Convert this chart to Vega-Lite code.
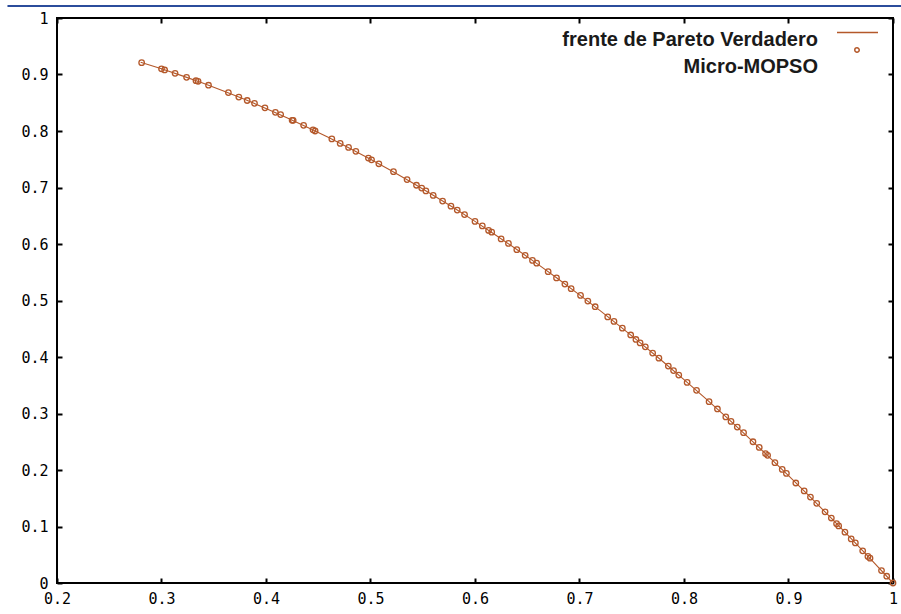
{
  "$schema": "https://vega.github.io/schema/vega-lite/v6.json",
  "width": 836,
  "height": 565,
  "autosize": {"type": "none"},
  "padding": {"left": 57, "top": 18, "right": 8, "bottom": 31},
  "background": "white",
  "config": {
    "view": {"stroke": "black", "strokeWidth": 2},
    "axis": {
      "domain": false,
      "grid": false,
      "ticks": true,
      "tickSize": -5,
      "tickWidth": 2,
      "tickColor": "black",
      "labelFont": "DejaVu Sans Mono",
      "labelFontSize": 15,
      "labelColor": "black",
      "title": null
    }
  },
  "datasets": {
    "front": [
      {"f1": 0.28, "f2": 0.9216, "front": "frente de Pareto Verdadero"},
      {"f1": 0.30, "f2": 0.9100, "front": "frente de Pareto Verdadero"},
      {"f1": 0.32, "f2": 0.8976, "front": "frente de Pareto Verdadero"},
      {"f1": 0.34, "f2": 0.8844, "front": "frente de Pareto Verdadero"},
      {"f1": 0.36, "f2": 0.8704, "front": "frente de Pareto Verdadero"},
      {"f1": 0.38, "f2": 0.8556, "front": "frente de Pareto Verdadero"},
      {"f1": 0.40, "f2": 0.8400, "front": "frente de Pareto Verdadero"},
      {"f1": 0.42, "f2": 0.8236, "front": "frente de Pareto Verdadero"},
      {"f1": 0.44, "f2": 0.8064, "front": "frente de Pareto Verdadero"},
      {"f1": 0.46, "f2": 0.7884, "front": "frente de Pareto Verdadero"},
      {"f1": 0.48, "f2": 0.7696, "front": "frente de Pareto Verdadero"},
      {"f1": 0.50, "f2": 0.7500, "front": "frente de Pareto Verdadero"},
      {"f1": 0.52, "f2": 0.7296, "front": "frente de Pareto Verdadero"},
      {"f1": 0.54, "f2": 0.7084, "front": "frente de Pareto Verdadero"},
      {"f1": 0.56, "f2": 0.6864, "front": "frente de Pareto Verdadero"},
      {"f1": 0.58, "f2": 0.6636, "front": "frente de Pareto Verdadero"},
      {"f1": 0.60, "f2": 0.6400, "front": "frente de Pareto Verdadero"},
      {"f1": 0.62, "f2": 0.6156, "front": "frente de Pareto Verdadero"},
      {"f1": 0.64, "f2": 0.5904, "front": "frente de Pareto Verdadero"},
      {"f1": 0.66, "f2": 0.5644, "front": "frente de Pareto Verdadero"},
      {"f1": 0.68, "f2": 0.5376, "front": "frente de Pareto Verdadero"},
      {"f1": 0.70, "f2": 0.5100, "front": "frente de Pareto Verdadero"},
      {"f1": 0.72, "f2": 0.4816, "front": "frente de Pareto Verdadero"},
      {"f1": 0.74, "f2": 0.4524, "front": "frente de Pareto Verdadero"},
      {"f1": 0.76, "f2": 0.4224, "front": "frente de Pareto Verdadero"},
      {"f1": 0.78, "f2": 0.3916, "front": "frente de Pareto Verdadero"},
      {"f1": 0.80, "f2": 0.3600, "front": "frente de Pareto Verdadero"},
      {"f1": 0.82, "f2": 0.3276, "front": "frente de Pareto Verdadero"},
      {"f1": 0.84, "f2": 0.2944, "front": "frente de Pareto Verdadero"},
      {"f1": 0.86, "f2": 0.2604, "front": "frente de Pareto Verdadero"},
      {"f1": 0.88, "f2": 0.2256, "front": "frente de Pareto Verdadero"},
      {"f1": 0.90, "f2": 0.1900, "front": "frente de Pareto Verdadero"},
      {"f1": 0.92, "f2": 0.1536, "front": "frente de Pareto Verdadero"},
      {"f1": 0.94, "f2": 0.1164, "front": "frente de Pareto Verdadero"},
      {"f1": 0.96, "f2": 0.0784, "front": "frente de Pareto Verdadero"},
      {"f1": 0.98, "f2": 0.0396, "front": "frente de Pareto Verdadero"},
      {"f1": 1.00, "f2": 0.0000, "front": "frente de Pareto Verdadero"}
    ],
    "pts": [
      {"f1": 0.281, "f2": 0.921, "alg": "Micro-MOPSO"},
      {"f1": 0.300, "f2": 0.910, "alg": "Micro-MOPSO"},
      {"f1": 0.303, "f2": 0.908, "alg": "Micro-MOPSO"},
      {"f1": 0.313, "f2": 0.902, "alg": "Micro-MOPSO"},
      {"f1": 0.324, "f2": 0.895, "alg": "Micro-MOPSO"},
      {"f1": 0.333, "f2": 0.889, "alg": "Micro-MOPSO"},
      {"f1": 0.335, "f2": 0.888, "alg": "Micro-MOPSO"},
      {"f1": 0.345, "f2": 0.881, "alg": "Micro-MOPSO"},
      {"f1": 0.364, "f2": 0.868, "alg": "Micro-MOPSO"},
      {"f1": 0.374, "f2": 0.860, "alg": "Micro-MOPSO"},
      {"f1": 0.382, "f2": 0.854, "alg": "Micro-MOPSO"},
      {"f1": 0.389, "f2": 0.849, "alg": "Micro-MOPSO"},
      {"f1": 0.399, "f2": 0.841, "alg": "Micro-MOPSO"},
      {"f1": 0.409, "f2": 0.833, "alg": "Micro-MOPSO"},
      {"f1": 0.414, "f2": 0.829, "alg": "Micro-MOPSO"},
      {"f1": 0.425, "f2": 0.819, "alg": "Micro-MOPSO"},
      {"f1": 0.426, "f2": 0.819, "alg": "Micro-MOPSO"},
      {"f1": 0.436, "f2": 0.810, "alg": "Micro-MOPSO"},
      {"f1": 0.445, "f2": 0.802, "alg": "Micro-MOPSO"},
      {"f1": 0.447, "f2": 0.800, "alg": "Micro-MOPSO"},
      {"f1": 0.463, "f2": 0.786, "alg": "Micro-MOPSO"},
      {"f1": 0.471, "f2": 0.778, "alg": "Micro-MOPSO"},
      {"f1": 0.479, "f2": 0.771, "alg": "Micro-MOPSO"},
      {"f1": 0.486, "f2": 0.764, "alg": "Micro-MOPSO"},
      {"f1": 0.498, "f2": 0.752, "alg": "Micro-MOPSO"},
      {"f1": 0.501, "f2": 0.749, "alg": "Micro-MOPSO"},
      {"f1": 0.508, "f2": 0.742, "alg": "Micro-MOPSO"},
      {"f1": 0.522, "f2": 0.728, "alg": "Micro-MOPSO"},
      {"f1": 0.535, "f2": 0.714, "alg": "Micro-MOPSO"},
      {"f1": 0.544, "f2": 0.704, "alg": "Micro-MOPSO"},
      {"f1": 0.549, "f2": 0.699, "alg": "Micro-MOPSO"},
      {"f1": 0.553, "f2": 0.694, "alg": "Micro-MOPSO"},
      {"f1": 0.560, "f2": 0.686, "alg": "Micro-MOPSO"},
      {"f1": 0.569, "f2": 0.676, "alg": "Micro-MOPSO"},
      {"f1": 0.577, "f2": 0.667, "alg": "Micro-MOPSO"},
      {"f1": 0.583, "f2": 0.660, "alg": "Micro-MOPSO"},
      {"f1": 0.590, "f2": 0.652, "alg": "Micro-MOPSO"},
      {"f1": 0.600, "f2": 0.640, "alg": "Micro-MOPSO"},
      {"f1": 0.607, "f2": 0.632, "alg": "Micro-MOPSO"},
      {"f1": 0.613, "f2": 0.624, "alg": "Micro-MOPSO"},
      {"f1": 0.616, "f2": 0.621, "alg": "Micro-MOPSO"},
      {"f1": 0.625, "f2": 0.609, "alg": "Micro-MOPSO"},
      {"f1": 0.632, "f2": 0.601, "alg": "Micro-MOPSO"},
      {"f1": 0.640, "f2": 0.590, "alg": "Micro-MOPSO"},
      {"f1": 0.648, "f2": 0.580, "alg": "Micro-MOPSO"},
      {"f1": 0.655, "f2": 0.571, "alg": "Micro-MOPSO"},
      {"f1": 0.659, "f2": 0.566, "alg": "Micro-MOPSO"},
      {"f1": 0.670, "f2": 0.551, "alg": "Micro-MOPSO"},
      {"f1": 0.678, "f2": 0.540, "alg": "Micro-MOPSO"},
      {"f1": 0.686, "f2": 0.529, "alg": "Micro-MOPSO"},
      {"f1": 0.692, "f2": 0.521, "alg": "Micro-MOPSO"},
      {"f1": 0.701, "f2": 0.509, "alg": "Micro-MOPSO"},
      {"f1": 0.708, "f2": 0.499, "alg": "Micro-MOPSO"},
      {"f1": 0.715, "f2": 0.489, "alg": "Micro-MOPSO"},
      {"f1": 0.727, "f2": 0.471, "alg": "Micro-MOPSO"},
      {"f1": 0.733, "f2": 0.463, "alg": "Micro-MOPSO"},
      {"f1": 0.741, "f2": 0.451, "alg": "Micro-MOPSO"},
      {"f1": 0.749, "f2": 0.439, "alg": "Micro-MOPSO"},
      {"f1": 0.754, "f2": 0.431, "alg": "Micro-MOPSO"},
      {"f1": 0.758, "f2": 0.425, "alg": "Micro-MOPSO"},
      {"f1": 0.763, "f2": 0.418, "alg": "Micro-MOPSO"},
      {"f1": 0.770, "f2": 0.407, "alg": "Micro-MOPSO"},
      {"f1": 0.776, "f2": 0.398, "alg": "Micro-MOPSO"},
      {"f1": 0.785, "f2": 0.384, "alg": "Micro-MOPSO"},
      {"f1": 0.790, "f2": 0.376, "alg": "Micro-MOPSO"},
      {"f1": 0.795, "f2": 0.368, "alg": "Micro-MOPSO"},
      {"f1": 0.803, "f2": 0.355, "alg": "Micro-MOPSO"},
      {"f1": 0.812, "f2": 0.341, "alg": "Micro-MOPSO"},
      {"f1": 0.824, "f2": 0.321, "alg": "Micro-MOPSO"},
      {"f1": 0.832, "f2": 0.308, "alg": "Micro-MOPSO"},
      {"f1": 0.840, "f2": 0.294, "alg": "Micro-MOPSO"},
      {"f1": 0.845, "f2": 0.286, "alg": "Micro-MOPSO"},
      {"f1": 0.851, "f2": 0.276, "alg": "Micro-MOPSO"},
      {"f1": 0.857, "f2": 0.266, "alg": "Micro-MOPSO"},
      {"f1": 0.866, "f2": 0.250, "alg": "Micro-MOPSO"},
      {"f1": 0.872, "f2": 0.240, "alg": "Micro-MOPSO"},
      {"f1": 0.878, "f2": 0.229, "alg": "Micro-MOPSO"},
      {"f1": 0.880, "f2": 0.226, "alg": "Micro-MOPSO"},
      {"f1": 0.887, "f2": 0.213, "alg": "Micro-MOPSO"},
      {"f1": 0.894, "f2": 0.201, "alg": "Micro-MOPSO"},
      {"f1": 0.898, "f2": 0.194, "alg": "Micro-MOPSO"},
      {"f1": 0.907, "f2": 0.177, "alg": "Micro-MOPSO"},
      {"f1": 0.915, "f2": 0.163, "alg": "Micro-MOPSO"},
      {"f1": 0.921, "f2": 0.152, "alg": "Micro-MOPSO"},
      {"f1": 0.927, "f2": 0.141, "alg": "Micro-MOPSO"},
      {"f1": 0.935, "f2": 0.126, "alg": "Micro-MOPSO"},
      {"f1": 0.941, "f2": 0.115, "alg": "Micro-MOPSO"},
      {"f1": 0.946, "f2": 0.105, "alg": "Micro-MOPSO"},
      {"f1": 0.948, "f2": 0.101, "alg": "Micro-MOPSO"},
      {"f1": 0.954, "f2": 0.090, "alg": "Micro-MOPSO"},
      {"f1": 0.960, "f2": 0.078, "alg": "Micro-MOPSO"},
      {"f1": 0.964, "f2": 0.071, "alg": "Micro-MOPSO"},
      {"f1": 0.971, "f2": 0.057, "alg": "Micro-MOPSO"},
      {"f1": 0.976, "f2": 0.047, "alg": "Micro-MOPSO"},
      {"f1": 0.978, "f2": 0.044, "alg": "Micro-MOPSO"},
      {"f1": 0.989, "f2": 0.022, "alg": "Micro-MOPSO"},
      {"f1": 0.994, "f2": 0.012, "alg": "Micro-MOPSO"},
      {"f1": 1.000, "f2": 0.000, "alg": "Micro-MOPSO"}
    ]
  },
  "resolve": {"axis": {"x": "independent", "y": "independent"}},
  "layer": [
    {
      "data": {"name": "front"},
      "mark": {"type": "line", "color": "#b4582a", "strokeWidth": 1.1, "clip": false},
      "encoding": {
        "x": {
          "field": "f1", "type": "quantitative",
          "scale": {"domain": [0.2, 1], "nice": false, "zero": false},
          "axis": {"orient": "bottom", "values": [0.2, 0.3, 0.4, 0.5, 0.6, 0.7, 0.8, 0.9, 1], "format": "~g", "labelPadding": 13, "labelFlush": false}
        },
        "y": {
          "field": "f2", "type": "quantitative",
          "scale": {"domain": [0, 1], "nice": false, "zero": false},
          "axis": {"orient": "left", "values": [0, 0.1, 0.2, 0.3, 0.4, 0.5, 0.6, 0.7, 0.8, 0.9, 1], "format": "~g", "labelPadding": 14, "labelFlush": false}
        },
        "color": {
          "field": "front", "type": "nominal",
          "scale": {"range": ["#b4582a"]},
          "legend": {
            "orient": "none", "legendX": 779, "legendY": -7,
            "title": null, "padding": 0,
            "symbolType": "stroke", "symbolSize": 1681, "symbolStrokeWidth": 1.5,
            "symbolStrokeColor": "#b4582a",
            "labelFont": "Liberation Sans", "labelFontWeight": "bold", "labelFontSize": 20,
            "labelColor": "#1a1a1a", "labelAlign": "right", "labelOffset": -61, "labelLimit": 400,
            "encode": {"labels": {"enter": {"dy": {"value": 7}}, "update": {"dy": {"value": 7}}}}
          }
        }
      }
    },
    {
      "data": {"name": "pts"},
      "mark": {"type": "point", "shape": "circle", "filled": false, "strokeWidth": 1.3, "size": 30, "opacity": 1, "clip": false},
      "encoding": {
        "x": {
          "field": "f1", "type": "quantitative",
          "axis": {"orient": "top", "values": [0.2, 0.3, 0.4, 0.5, 0.6, 0.7, 0.8, 0.9, 1], "labels": false}
        },
        "y": {
          "field": "f2", "type": "quantitative",
          "axis": {"orient": "right", "values": [0, 0.1, 0.2, 0.3, 0.4, 0.5, 0.6, 0.7, 0.8, 0.9, 1], "labels": false}
        },
        "stroke": {
          "field": "alg", "type": "nominal",
          "scale": {"range": ["#b4582a"]},
          "legend": {
            "orient": "none", "legendX": 790, "legendY": 39,
            "title": null, "padding": 0,
            "symbolType": "M1,-7.6A1,1,0,1,1,-1,-7.6A1,1,0,1,1,1,-7.6Z",
            "symbolSize": 20, "symbolStrokeWidth": 1.5,
            "symbolFillColor": "transparent",
            "labelFont": "Liberation Sans", "labelFontWeight": "bold", "labelFontSize": 20,
            "labelColor": "#1a1a1a", "labelAlign": "right", "labelOffset": -49, "labelLimit": 400
          }
        }
      }
    },
    {
      "data": {"values": [{}]},
      "mark": {"type": "rule", "color": "#2b4c9b", "strokeWidth": 2, "clip": false},
      "encoding": {
        "x": {"datum": 0.1526, "type": "quantitative", "axis": null},
        "x2": {"datum": 1.0077},
        "y": {"datum": 1.0212, "type": "quantitative", "axis": null}
      }
    }
  ]
}
